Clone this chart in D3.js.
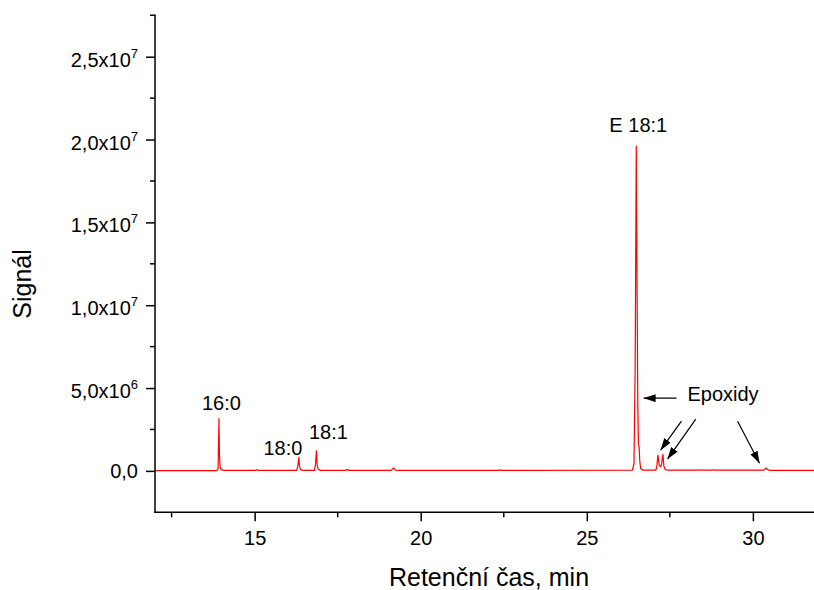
<!DOCTYPE html>
<html>
<head>
<meta charset="utf-8">
<script src="https://cdn.jsdelivr.net/npm/d3@7"></script>
<style>
  html, body { margin: 0; padding: 0; background: #fff; }
  svg { display: block; font-family: "Liberation Sans", Arial, sans-serif; }
</style>
</head>
<body>
<svg id="chart" width="814" height="590"></svg>
<script>
// ---- Data ----
const retentionTime = [
  12.00, 13.00, 13.86, 13.90, 13.91, 13.925, 13.94, 13.96, 13.99, 14.08,
  15.02, 15.06, 15.10,
  16.27, 16.30, 16.33, 16.35, 16.38, 16.44,
  16.80, 16.83, 16.86, 16.88, 16.91, 16.98,
  17.73, 17.78, 17.83,
  19.11, 19.18, 19.24, 19.33,
  22.32, 22.37, 22.42,
  26.37, 26.42, 26.455, 26.49, 26.51, 26.535, 26.555, 26.575, 26.595, 26.62, 26.68,
  27.08, 27.11, 27.14, 27.18, 27.215, 27.25, 27.29, 27.32, 27.36, 27.45,
  28.36, 28.40, 28.44, 28.74, 28.79, 28.84,
  30.32, 30.36, 30.40, 30.44, 30.50,
  31.84
];
const signal = [
  0.02e6, 0.02e6, 0.02e6, 0.15e6, 1.2e6, 3.16e6, 1.0e6, 0.25e6, 0.08e6, 0.03e6,
  0.03e6, 0.07e6, 0.03e6,
  0.03e6, 0.3e6, 0.81e6, 0.3e6, 0.08e6, 0.03e6,
  0.03e6, 0.35e6, 1.21e6, 0.4e6, 0.1e6, 0.03e6,
  0.03e6, 0.08e6, 0.03e6,
  0.03e6, 0.18e6, 0.05e6, 0.03e6,
  0.03e6, 0.06e6, 0.03e6,
  0.04e6, 0.4e6, 6.0e6, 19.6e6, 12.0e6, 4.0e6, 1.6e6, 1.45e6, 0.6e6, 0.15e6, 0.05e6,
  0.04e6, 0.3e6, 0.95e6, 0.35e6, 0.25e6, 0.4e6, 1.0e6, 0.3e6, 0.08e6, 0.04e6,
  0.04e6, 0.07e6, 0.04e6, 0.04e6, 0.07e6, 0.04e6,
  0.04e6, 0.1e6, 0.18e6, 0.08e6, 0.03e6,
  0.03e6
];

// Axis ticks
const xMajorTicks = [15, 20, 25, 30];
const xMinorTicks = [12.5, 17.5, 22.5, 27.5];
const yMajorTicks = [0, 5e6, 1e7, 1.5e7, 2e7, 2.5e7];
const yMajorMantissa = ["0,0", "5,0x10", "1,0x10", "1,5x10", "2,0x10", "2,5x10"];
const yMajorExponent = ["", "6", "7", "7", "7", "7"];
const yMinorTicks = [2.5e6, 7.5e6, 1.25e7, 1.75e7, 2.25e7, 2.75e7];

// Peak labels (data coordinates: time, signal at text baseline)
const peakLabels = ["16:0", "18:0", "18:1", "E 18:1"];
const peakLabelTime = [14.0, 15.85, 17.22, 26.55];
const peakLabelSignal = [3.7e6, 0.95e6, 1.9e6, 2.047e7];

const epoxLabel = "Epoxidy";
const epoxLabelTime = 28.03;
const epoxLabelSignal = 4.2e6;

// Arrows (start time, start signal, end time, end signal)
const arrowStartTime = [27.70, 27.85, 28.28, 29.54];
const arrowStartSignal = [4.39e6, 3.0e6, 3.12e6, 3.0e6];
const arrowEndTime = [26.71, 27.22, 27.43, 30.20];
const arrowEndSignal = [4.39e6, 1.25e6, 0.71e6, 0.46e6];

const xTitle = "Retenční čas, min";
const yTitle = "Signál";

// ---- Drawing ----
const svg = d3.select("#chart");
const plotLeft = 155, plotRight = 814, plotTop = 15.3, plotBottom = 512.3;

const x = d3.scaleLinear().domain([12, 31.84]).range([plotLeft, plotRight]);
const y = d3.scaleLinear().domain([-2.5e6, 2.75e7]).range([plotBottom, plotTop]);

const defs = svg.append("defs");
defs.append("marker")
  .attr("id", "ah")
  .attr("markerUnits", "userSpaceOnUse")
  .attr("viewBox", "0 0 12 8")
  .attr("refX", 12).attr("refY", 4)
  .attr("markerWidth", 12).attr("markerHeight", 8)
  .attr("orient", "auto")
  .append("path").attr("d", "M0,0 L12,4 L0,8 Z").attr("fill", "#000");

// Trace
const pts = retentionTime.map((t, i) => [t, signal[i]]);
svg.append("path")
  .datum(pts)
  .attr("fill", "none")
  .attr("stroke", "#ff0000")
  .attr("stroke-width", 1.2)
  .attr("stroke-linejoin", "round")
  .attr("d", d3.line().x(d => x(d[0])).y(d => y(d[1])));

// X axis
const xAxisG = svg.append("g").attr("transform", `translate(0,${plotBottom})`);
xAxisG.call(d3.axisBottom(x).tickValues(xMajorTicks).tickSize(9).tickSizeOuter(0).tickFormat(d3.format("d")));
xAxisG.selectAll(".domain").remove();
xAxisG.append("g").selectAll("line").data(xMinorTicks).join("line")
  .attr("x1", d => x(d)).attr("x2", d => x(d))
  .attr("y1", 0).attr("y2", 5)
  .attr("stroke", "#000").attr("stroke-width", 1.5);
xAxisG.selectAll(".tick line").attr("stroke-width", 1.5);
xAxisG.selectAll(".tick text")
  .attr("font-size", 20)
  .attr("font-family", "Liberation Sans, Arial, sans-serif")
  .attr("fill", "#000")
  .attr("dy", null)
  .attr("y", 32.5);

// Y axis
const yAxisG = svg.append("g").attr("transform", `translate(${plotLeft},0)`);
yAxisG.call(d3.axisLeft(y).tickValues(yMajorTicks).tickSize(9).tickSizeOuter(0).tickFormat(() => ""));
yAxisG.selectAll(".domain").remove();
yAxisG.selectAll(".tick line").attr("stroke-width", 1.5);
yAxisG.append("g").selectAll("line").data(yMinorTicks).join("line")
  .attr("x1", 0).attr("x2", -5)
  .attr("y1", d => y(d)).attr("y2", d => y(d))
  .attr("stroke", "#000").attr("stroke-width", 1.5);

yAxisG.selectAll(".tick text").remove();
const yLab = yAxisG.append("g").selectAll("text").data(yMajorTicks).join("text")
  .attr("x", -17)
  .attr("y", (d, i) => y(d) + (yMajorExponent[i] ? 10 : 7))
  .attr("text-anchor", "end")
  .attr("font-size", 20)
  .attr("font-family", "Liberation Sans, Arial, sans-serif")
  .attr("fill", "#000");
yLab.each(function(d, i) {
  const t = d3.select(this);
  t.append("tspan").text(yMajorMantissa[i]);
  if (yMajorExponent[i]) {
    t.append("tspan").attr("font-size", 13).attr("dy", -9).text(yMajorExponent[i]);
  }
});

// Axis lines
svg.append("line")
  .attr("x1", plotLeft).attr("x2", plotLeft).attr("y1", plotTop).attr("y2", plotBottom)
  .attr("stroke", "#000").attr("stroke-width", 1.5).attr("stroke-linecap", "square");
svg.append("line")
  .attr("x1", plotLeft).attr("x2", plotRight).attr("y1", plotBottom).attr("y2", plotBottom)
  .attr("stroke", "#000").attr("stroke-width", 1.5).attr("stroke-linecap", "square");

// Axis titles
svg.append("text")
  .attr("x", 489).attr("y", 586)
  .attr("text-anchor", "middle")
  .attr("font-size", 25)
  .attr("fill", "#000")
  .text(xTitle);
svg.append("text")
  .attr("transform", `translate(31,${284}) rotate(-90)`)
  .attr("text-anchor", "middle")
  .attr("font-size", 25)
  .attr("fill", "#000")
  .text(yTitle);

// Peak labels
svg.append("g").selectAll("text").data(peakLabels).join("text")
  .attr("x", (d, i) => x(peakLabelTime[i]))
  .attr("y", (d, i) => y(peakLabelSignal[i]))
  .attr("text-anchor", "middle")
  .attr("font-size", 20)
  .attr("fill", "#000")
  .text(d => d);

svg.append("text")
  .attr("x", x(epoxLabelTime))
  .attr("y", y(epoxLabelSignal))
  .attr("text-anchor", "start")
  .attr("font-size", 20)
  .attr("fill", "#000")
  .text(epoxLabel);

// Arrows
svg.append("g").selectAll("line").data(arrowStartTime).join("line")
  .attr("x1", (d, i) => x(arrowStartTime[i]))
  .attr("y1", (d, i) => y(arrowStartSignal[i]))
  .attr("x2", (d, i) => x(arrowEndTime[i]))
  .attr("y2", (d, i) => y(arrowEndSignal[i]))
  .attr("stroke", "#000")
  .attr("stroke-width", 1.2)
  .attr("marker-end", "url(#ah)");
</script>
</body>
</html>
